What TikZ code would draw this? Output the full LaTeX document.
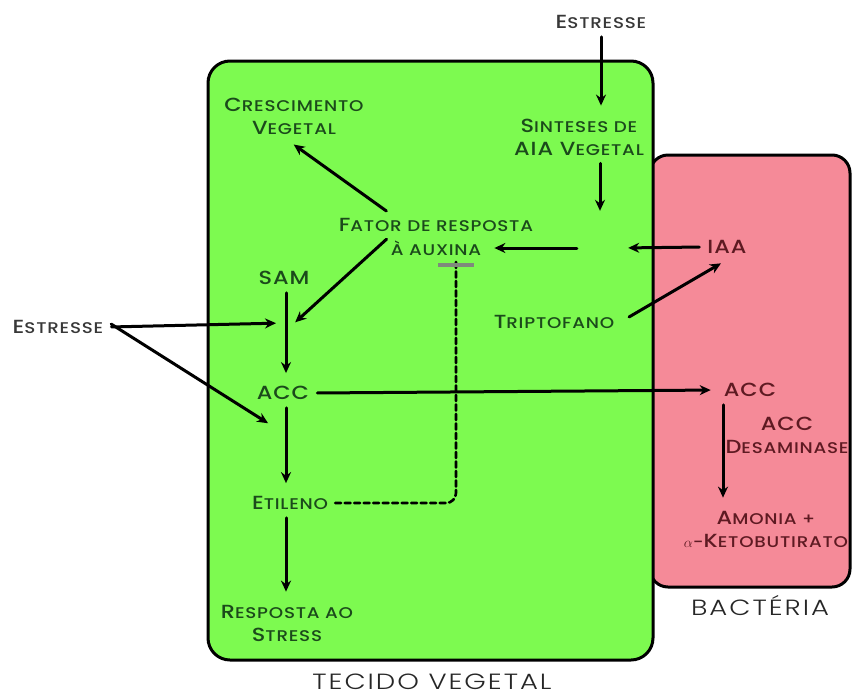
\documentclass[tikz,border=0pt]{standalone}
\usepackage{fontspec}
\setmainfont{Poppins Medium}[FakeStretch=1.18,LetterSpace=5]
\newfontfamily\labelfont{Poppins Light}[FakeStretch=1.25,LetterSpace=9]
\usetikzlibrary{arrows.meta}
\definecolor{leaf}{HTML}{7DFA50}
\definecolor{flesh}{HTML}{F58A98}
\definecolor{leafink}{HTML}{1B4A1B}
\definecolor{bactink}{HTML}{5E1A22}
\definecolor{outink}{HTML}{383838}
\definecolor{barcol}{HTML}{7F8A7C}
\newcommand\bigc[1]{{\fontsize{19}{23}\selectfont #1}}
\begin{document}
\begin{tikzpicture}[x=1pt,y=-1pt,line cap=round,line join=round]
  \tikzset{plant/.style={text=leafink,font=\fontsize{15.5}{23}\selectfont,align=center,inner sep=6pt},
    bact/.style={plant,text=bactink},outer/.style={plant,text=outink},
    flow/.style={line width=3pt,shorten <=2pt,shorten >=7pt,-{Stealth[length=11pt,width=10pt]}},
    region/.style={text=black!85,inner sep=1pt,font=\labelfont\fontsize{22}{24}\selectfont}}
  \useasboundingbox (0,0) rectangle (852,697);
  \draw[line width=3pt,fill=flesh,rounded corners=18pt] (650,155) rectangle (850,587);
  \draw[line width=3pt,fill=leaf,rounded corners=22pt] (208,61) rectangle (653,660);
  \node[outer] (estT) at (601,22) {\bigc{E}STRESSE};
  \node[plant] (sint) at (579,137) {\bigc{S}INTESES DE\\\bigc{AIA V}EGETAL};
  \node[plant] (cres) at (294,116) {\bigc{C}RESCIMENTO\\\bigc{V}EGETAL};
  \node[plant] (fator) at (436,225) {\bigc{F}ATOR DE RESPOSTA};
  \node[plant] (aux) at (436,248) {À AUXINA};
  \node[minimum width=42pt,minimum height=60pt,inner sep=0pt] (hub) at (600,248) {};
  \node[bact] (iaa) at (727,247) {\bigc{IAA}};
  \node[plant] (trip) at (554,322) {\bigc{T}RIPTOFANO};
  \node[plant] (sam) at (284,278) {\bigc{SAM}};
  \node[outer] (estL) at (58,327) {\bigc{E}STRESSE};
  \node[plant] (acc) at (283,393) {\bigc{ACC}};
  \node[plant] (etil) at (290,503) {\bigc{E}TILENO};
  \node[plant] (resp) at (287,623) {\bigc{R}ESPOSTA AO\\\bigc{S}TRESS};
  \node[bact] (accb) at (750,390) {\bigc{ACC}};
  \node[bact] (desam) at (787,435) {\bigc{ACC}\\\bigc{D}ESAMINASE};
  \node[bact] (amon) at (766,529) {\bigc{A}MONIA +\\$\alpha$-\bigc{K}ETOBUTIRATO};
  \node[region] (tecido) at (432,682) {TECIDO VEGETAL};
  \node[region] (bacteria) at (760,606) {BACTÉRIA};
  \coordinate (stressA) at (283,323); \coordinate (stressB) at (274,427); \coordinate (auxA) at (290,327);
  \coordinate (block) at (456,265);
  \draw[flow] (estT.south) -- (estT.south |- sint.north);
  \draw[flow] (sint.south -| hub) -- (hub.north);
  \draw[flow] (hub.west) -- (aux.east);
  \draw[flow] (iaa.west) -- (hub.east);
  \draw[flow,shorten <=10pt] (trip.east) -- (iaa.south);
  \draw[flow] ([xshift=-48pt]fator.north) -- ([xshift=-6pt]cres.south);
  \draw[flow] ([xshift=-48pt]fator.south) -- (auxA);
  \draw[flow] (sam.south -| 286,0) -- (acc.north -| 286,0);
  \draw[flow] (estL.east) -- (stressA);
  \draw[flow] ([yshift=4pt]estL.east) -- (stressB);
  \draw[flow] (acc.south -| 286,0) -- (etil.north -| 286,0);
  \draw[flow] (etil.south -| 286,0) -- (resp.north -| 286,0);
  \draw[flow] (acc.east) -- (accb.west);
  \draw[flow] (accb.south -| 723,0) -- (amon.north -| 723,0);
  \draw[line width=2.6pt,dashed,dash pattern=on 6pt off 3.5pt,rounded corners=10pt] ([yshift=3pt]block) |- (etil.east);
  \draw[line width=3.4pt,barcol,line cap=butt] ([xshift=-18pt]block) -- ([xshift=18pt]block);
\end{tikzpicture}
\end{document}
